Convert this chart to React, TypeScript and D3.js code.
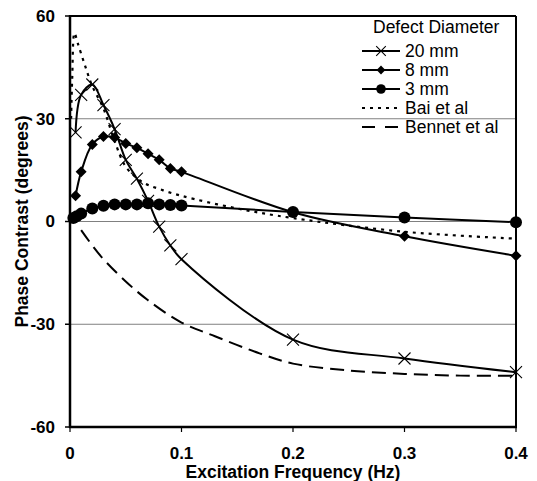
import * as d3 from 'd3'

// Excel-style chart: phase contrast vs excitation frequency
const freq20 = [0.005, 0.01, 0.02, 0.03, 0.04, 0.05, 0.06, 0.07, 0.08, 0.09, 0.1, 0.2, 0.3, 0.4]
const phase20 = [26, 37, 40, 34, 27, 18, 12.5, 6, -1.5, -7, -11, -34.5, -40, -44]

const freq8 = [0.005, 0.01, 0.02, 0.03, 0.04, 0.05, 0.06, 0.07, 0.08, 0.09, 0.1, 0.2, 0.3, 0.4]
const phase8 = [7.5, 14.5, 22.5, 24.8, 24.5, 22.8, 21.5, 19.8, 18, 15.5, 14.5, 2.7, -4.3, -10]

const freq3 = [0.003, 0.006, 0.01, 0.02, 0.03, 0.04, 0.05, 0.06, 0.07, 0.08, 0.09, 0.1, 0.2, 0.3, 0.4]
const phase3 = [1, 1.5, 2.3, 3.8, 4.6, 5, 5, 5, 5.3, 5, 4.8, 4.7, 2.8, 1.2, -0.2]

const freqBai = [0.001, 0.002, 0.004, 0.007, 0.013, 0.02, 0.03, 0.04, 0.05, 0.065, 0.08, 0.1, 0.15, 0.2, 0.3, 0.4]
const phaseBai = [30, 42, 55, 52, 46, 39.5, 33, 23.5, 16, 11.5, 9.5, 7.5, 3.8, 1, -3, -5]

const freqBennet = [0.01, 0.02, 0.03, 0.05, 0.07, 0.1, 0.13, 0.17, 0.2, 0.25, 0.3, 0.35, 0.4]
const phaseBennet = [-2.5, -7, -11, -17.5, -23, -29.5, -33.5, -38.5, -41.5, -43.5, -44.5, -45, -45]

const xTicks = [0, 0.1, 0.2, 0.3, 0.4]
const yTicks = [-60, -30, 0, 30, 60]
const gridValues = [-30, 0, 30]
const legendLabels = ['20 mm', '8 mm', '3 mm', 'Bai et al', 'Bennet et al']

const W = 537
const H = 481
const left = 70, right = 516, top = 16, bottom = 427
const font = 'Arial, "Liberation Sans", sans-serif'

const zip = (xs: number[], ys: number[]) => xs.map((f, i) => [f, ys[i]] as [number, number])

function Marker({ kind, x, y, scale = 1 }: { kind: string; x: number; y: number; scale?: number }) {
  if (kind === 'x') {
    const s = 6 * scale
    return (
      <path d={`M${x - s},${y - s}L${x + s},${y + s}M${x - s},${y + s}L${x + s},${y - s}`}
        stroke="#000" strokeWidth={1.1} fill="none" />
    )
  }
  if (kind === 'diamond') {
    const s = 5.5 * scale
    return <path d={`M${x},${y - s}L${x + s},${y}L${x},${y + s}L${x - s},${y}Z`} fill="#000" />
  }
  return <circle cx={x} cy={y} r={6 * scale} fill="#000" />
}

export default function App() {
  const x = d3.scaleLinear().domain([0, 0.4]).range([left, right])
  const y = d3.scaleLinear().domain([-60, 60]).range([bottom, top])

  const line = d3.line<[number, number]>()
    .x(d => x(d[0]))
    .y(d => y(d[1]))
    .curve(d3.curveCatmullRom.alpha(0.5))

  const s20 = zip(freq20, phase20)
  const s8 = zip(freq8, phase8)
  const s3 = zip(freq3, phase3)
  const sBai = zip(freqBai, phaseBai)
  const sBen = zip(freqBennet, phaseBennet)

  const legendX0 = 362, legendX1 = 400, legendText = 405
  const rowY = [51, 70, 89, 108, 127]

  return (
    <svg width={W} height={H} style={{ position: 'absolute', left: 0, top: 0, background: '#fff' }}
      fontFamily={font}>
      {/* gridlines */}
      {gridValues.map(v => (
        <line key={v} x1={left} x2={right} y1={y(v)} y2={y(v)} stroke="#808080" strokeWidth={1} />
      ))}

      {/* plot frame (top / right) */}
      <line x1={left} x2={right} y1={top} y2={top} stroke="#000" strokeWidth={2} />
      <line x1={right} x2={right} y1={top} y2={bottom} stroke="#000" strokeWidth={2} />

      {/* series */}
      <path d={line(sBen) ?? ''} fill="none" stroke="#000" strokeWidth={2} strokeDasharray="14,7" />
      <path d={line(sBai) ?? ''} fill="none" stroke="#000" strokeWidth={2.2} strokeDasharray="3,5" />
      <path d={line(s3) ?? ''} fill="none" stroke="#000" strokeWidth={2} />
      <path d={line(s8) ?? ''} fill="none" stroke="#000" strokeWidth={2} />
      <path d={line(s20) ?? ''} fill="none" stroke="#000" strokeWidth={2} />
      {s3.map((d, i) => <Marker key={'c' + i} kind="circle" x={x(d[0])} y={y(d[1])} />)}
      {s8.map((d, i) => <Marker key={'d' + i} kind="diamond" x={x(d[0])} y={y(d[1])} />)}
      {s20.map((d, i) => <Marker key={'x' + i} kind="x" x={x(d[0])} y={y(d[1])} />)}

      {/* axes */}
      <line x1={left} x2={left} y1={top - 1} y2={bottom + 1} stroke="#000" strokeWidth={2.5} />
      <line x1={left - 1} x2={right + 1} y1={bottom} y2={bottom} stroke="#000" strokeWidth={2.5} />
      {yTicks.map(v => (
        <g key={v}>
          <line x1={left - 5} x2={left} y1={y(v)} y2={y(v)} stroke="#000" strokeWidth={1.5} />
          <text x={left - 15} y={y(v)} dy="0.35em" textAnchor="end" fontSize={17} fontWeight="bold">{v}</text>
        </g>
      ))}
      {xTicks.map(v => (
        <g key={v}>
          <line x1={x(v)} x2={x(v)} y1={bottom} y2={bottom + 5} stroke="#000" strokeWidth={1.2} />
          <text x={x(v)} y={453} dy="0.35em" textAnchor="middle" fontSize={17} fontWeight="bold">{v}</text>
        </g>
      ))}

      <text x={(left + right) / 2} y={472} dy="0.35em" textAnchor="middle" fontSize={17.5} fontWeight="bold">
        Excitation Frequency (Hz)
      </text>
      <text transform={`translate(22,${(top + bottom) / 2}) rotate(-90)`} dy="0.35em" textAnchor="middle"
        fontSize={17.5} fontWeight="bold">
        Phase Contrast (degrees)
      </text>

      {/* legend */}
      <text x={373} y={27} dy="0.35em" fontSize={17.5}>Defect Diameter</text>
      {legendLabels.map((label, i) => {
        const ly = rowY[i]
        const mid = (legendX0 + legendX1) / 2
        let sample
        if (i < 3) {
          sample = (
            <g>
              <line x1={legendX0} x2={legendX1} y1={ly} y2={ly} stroke="#000" strokeWidth={2} />
              <Marker kind={['x', 'diamond', 'circle'][i]} x={mid} y={ly} scale={0.8} />
            </g>
          )
        } else if (i === 3) {
          sample = <line x1={legendX0} x2={legendX1} y1={ly} y2={ly} stroke="#000" strokeWidth={2.2} strokeDasharray="3,5" />
        } else {
          sample = <line x1={legendX0} x2={legendX1} y1={ly} y2={ly} stroke="#000" strokeWidth={2} strokeDasharray="13,10" />
        }
        return (
          <g key={label}>
            {sample}
            <text x={legendText} y={ly} dy="0.35em" fontSize={17.5}>{label}</text>
          </g>
        )
      })}
    </svg>
  )
}
